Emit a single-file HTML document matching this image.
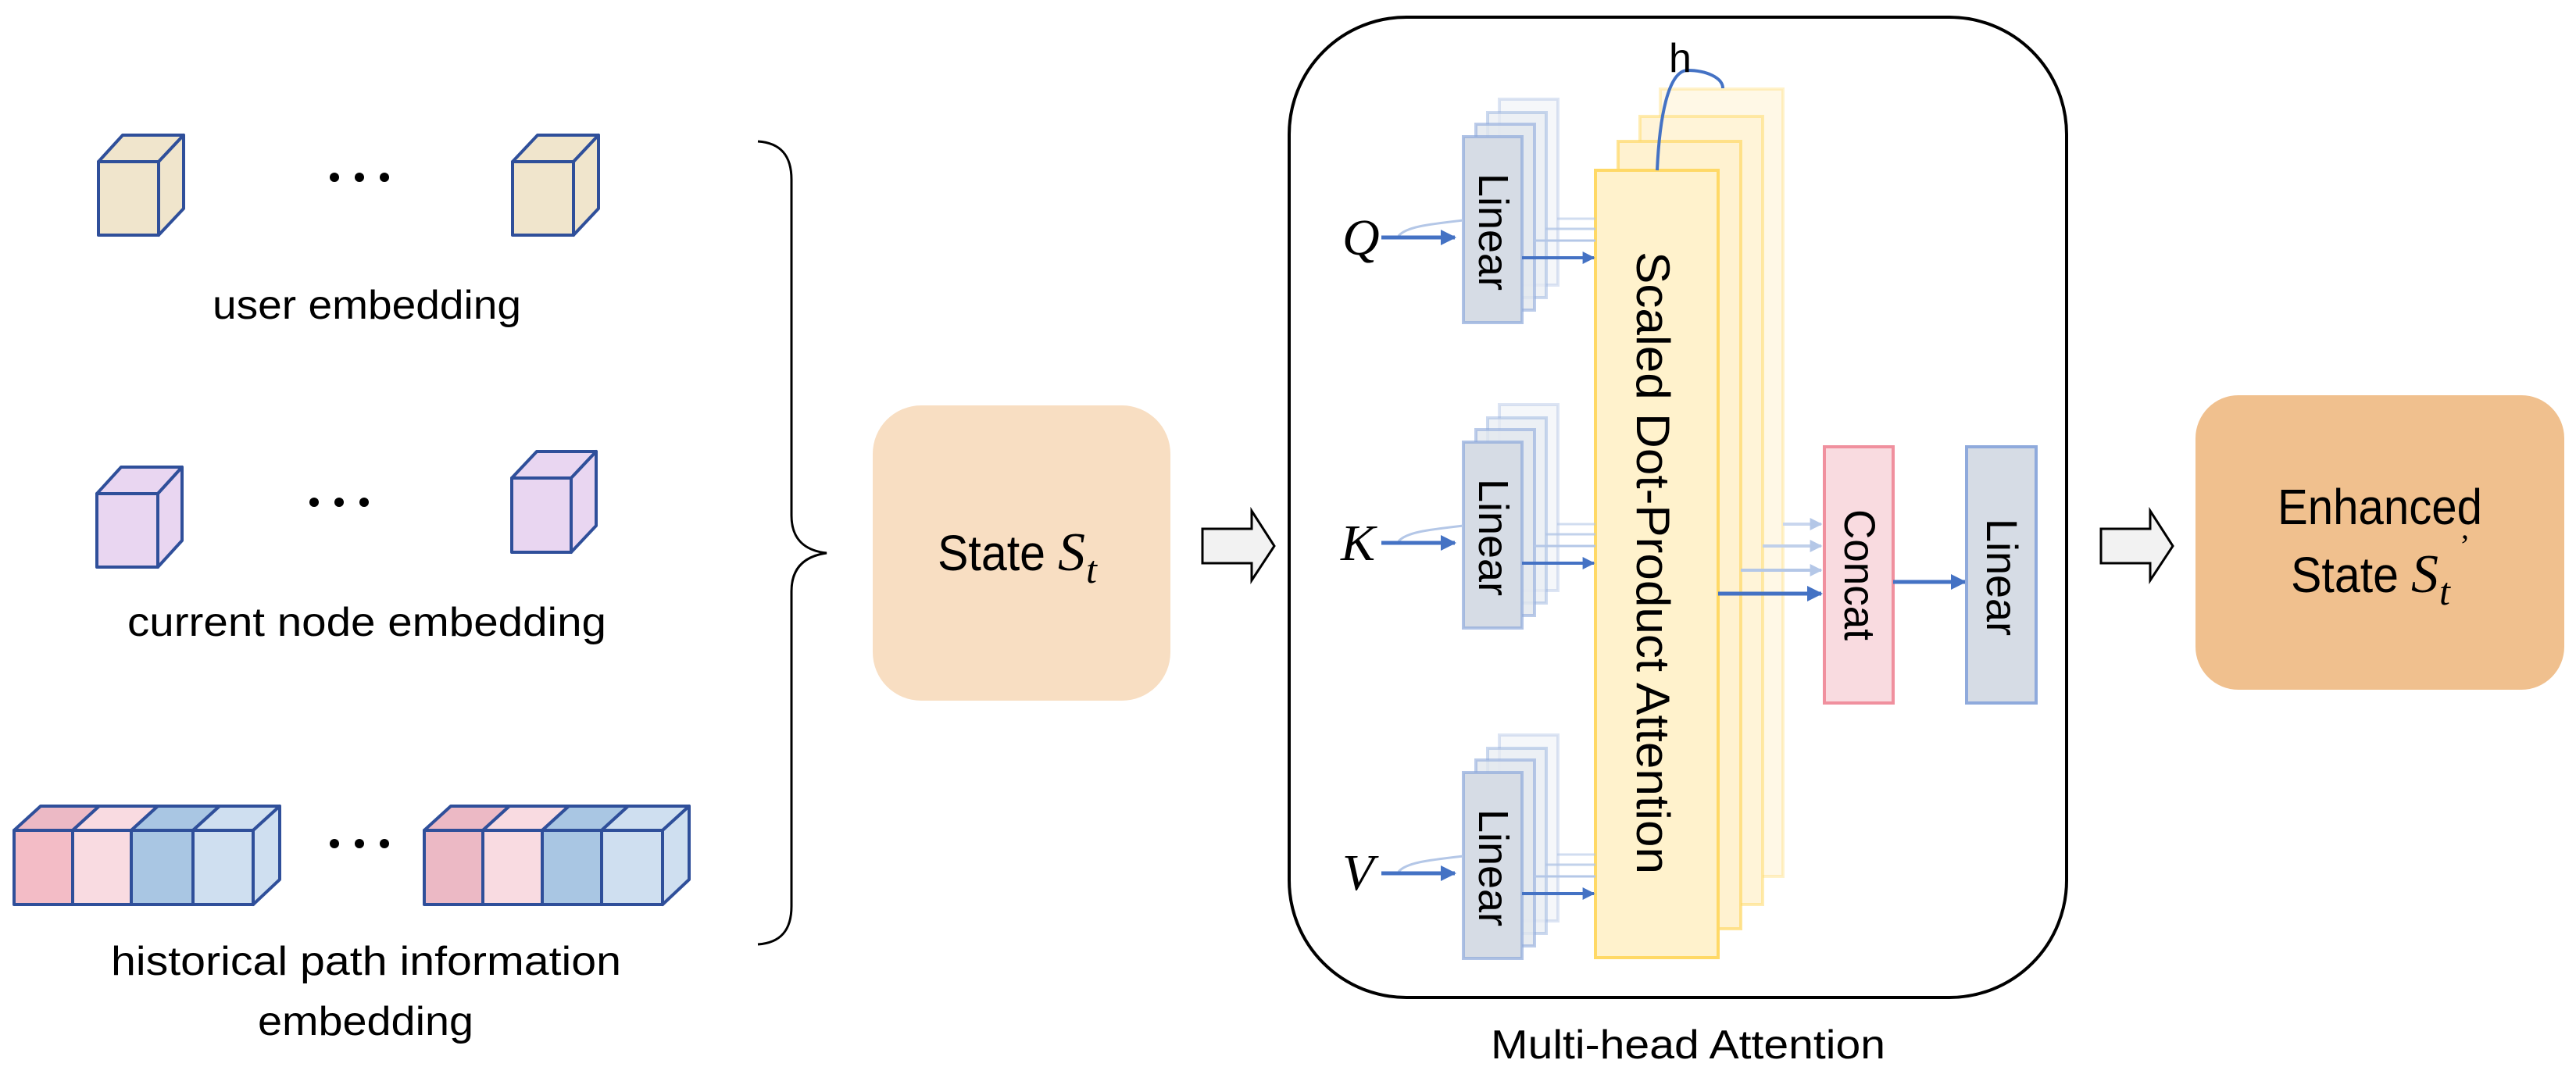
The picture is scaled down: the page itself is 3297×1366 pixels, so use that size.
<!DOCTYPE html>
<html><head><meta charset="utf-8"><style>html,body{margin:0;padding:0;background:#fff}svg{display:block}</style></head>
<body>
<svg width="3297" height="1366" viewBox="0 0 3297 1366" xmlns="http://www.w3.org/2000/svg" font-family="Liberation Sans, sans-serif">
<defs>
<marker id="ah" viewBox="0 0 10 10" refX="9" refY="5" markerWidth="4" markerHeight="4" orient="auto" markerUnits="strokeWidth"><path d="M0,0 L10,5 L0,10 z" fill="#4472c4"/></marker>
<marker id="ahf" viewBox="0 0 10 10" refX="9" refY="5" markerWidth="4" markerHeight="4" orient="auto" markerUnits="strokeWidth"><path d="M0,0 L10,5 L0,10 z" fill="#b4c7e7"/></marker>
</defs>
<g stroke="#2f4f9a" stroke-width="4" stroke-linejoin="round">
<g fill="#f0e5cc">
<polygon points="126,207 157,173 235,173 203,207"/><polygon points="203,207 235,173 235,267 203,301"/><rect x="126" y="207" width="77" height="94"/>
<polygon points="656,207 688,173 766,173 734,207"/><polygon points="734,207 766,173 766,267 734,301"/><rect x="656" y="207" width="78" height="94"/>
</g>
<g fill="#e9d6f1">
<polygon points="124,632 155,598 233,598 202,632"/><polygon points="202,632 233,598 233,692 202,726"/><rect x="124" y="632" width="78" height="94"/>
<polygon points="655,612 687,578 763,578 731,612"/><polygon points="731,612 763,578 763,673 731,707"/><rect x="655" y="612" width="76" height="95"/>
</g>
<g>
<polygon points="18,1063 52,1032 127,1032 93,1063" fill="#ecb9c5"/><rect x="18" y="1063" width="75" height="95" fill="#f3bcc6"/>
<polygon points="93,1063 127,1032 202,1032 168,1063" fill="#f9dbe1"/><rect x="93" y="1063" width="75" height="95" fill="#f9dbe1"/>
<polygon points="168,1063 202,1032 281,1032 247,1063" fill="#a9c6e3"/><rect x="168" y="1063" width="79" height="95" fill="#a9c6e3"/>
<polygon points="247,1063 281,1032 358,1032 324,1063" fill="#cfdff0"/><polygon points="324,1063 358,1032 358,1126 324,1158" fill="#cfdff0"/><rect x="247" y="1063" width="77" height="95" fill="#cfdff0"/>
<polygon points="543,1063 577,1032 652,1032 618,1063" fill="#ecb9c5"/><rect x="543" y="1063" width="75" height="95" fill="#ecb9c5"/>
<polygon points="618,1063 652,1032 728,1032 694,1063" fill="#f9dbe1"/><rect x="618" y="1063" width="76" height="95" fill="#f9dbe1"/>
<polygon points="694,1063 728,1032 804,1032 770,1063" fill="#a9c6e3"/><rect x="694" y="1063" width="76" height="95" fill="#a9c6e3"/>
<polygon points="770,1063 804,1032 882,1032 848,1063" fill="#cfdff0"/><polygon points="848,1063 882,1032 882,1126 848,1158" fill="#cfdff0"/><rect x="770" y="1063" width="78" height="95" fill="#cfdff0"/>
</g>
</g>
<g fill="#000">
<circle cx="428" cy="227" r="6"/><circle cx="460" cy="227" r="6"/><circle cx="492" cy="227" r="6"/>
<circle cx="402" cy="643" r="6"/><circle cx="434" cy="643" r="6"/><circle cx="466" cy="643" r="6"/>
<circle cx="428" cy="1080" r="6"/><circle cx="460" cy="1080" r="6"/><circle cx="492" cy="1080" r="6"/>
</g>
<g font-size="52" fill="#000">
<text x="272" y="408" textLength="395" lengthAdjust="spacingAndGlyphs">user embedding</text>
<text x="163" y="814" textLength="613" lengthAdjust="spacingAndGlyphs">current node embedding</text>
<text x="142" y="1248" textLength="653" lengthAdjust="spacingAndGlyphs">historical path information</text>
<text x="330" y="1325" textLength="276" lengthAdjust="spacingAndGlyphs">embedding</text>
</g>
<path d="M970,181 C1000,183 1013,200 1013,230 L1013,660 C1013,690 1030,705 1058,708 C1030,712 1013,727 1013,757 L1013,1160 C1013,1190 1000,1207 970,1209" fill="none" stroke="#000" stroke-width="3"/>
<rect x="1117" y="519" width="381" height="378" rx="62" fill="#f8dec2"/>
<text x="1200" y="730" font-size="64" textLength="138" lengthAdjust="spacingAndGlyphs">State</text>
<text x="1354" y="730" font-size="70" font-family="Liberation Serif, serif" font-style="italic">S</text>
<text x="1390" y="746" font-size="50" font-family="Liberation Serif, serif" font-style="italic">t</text>
<path d="M1539,677 L1602,677 L1602,654 L1631,699 L1602,743 L1602,721 L1539,721 Z" fill="#f2f2f2" stroke="#000" stroke-width="3"/>
<path d="M2689,677 L2752,677 L2752,654 L2781,699 L2752,743 L2752,721 L2689,721 Z" fill="#f2f2f2" stroke="#000" stroke-width="3"/>
<rect x="1650" y="22" width="995" height="1255" rx="150" fill="none" stroke="#000" stroke-width="4"/>
<text x="1908" y="1355" font-size="52" textLength="505" lengthAdjust="spacingAndGlyphs">Multi-head Attention</text>
<g stroke="#ffd966" stroke-width="4">
<rect x="2125" y="114" width="157" height="1008" fill="#fff8e6" stroke-opacity="0.35"/>
<rect x="2099" y="149" width="157" height="1009" fill="#fff4d8" stroke-opacity="0.5"/>
<rect x="2071" y="181" width="157" height="1008" fill="#fff2d0" stroke-opacity="0.7"/>
<rect x="2042" y="218" width="157" height="1008" fill="#fff2cc"/>
</g>
<path d="M2121,218 C2124,150 2135,92 2159,90 C2185,90 2205,100 2205,113" fill="none" stroke="#4472c4" stroke-width="4"/>
<text x="2136" y="92" font-size="52">h</text>
<text transform="translate(2095,322) rotate(90)" font-size="60" textLength="797" lengthAdjust="spacingAndGlyphs">Scaled Dot-Product Attention</text>
<g id="lin">
<g stroke="#8faadc" stroke-width="4">
<rect x="1919" y="127" width="75" height="238" fill="#eef1f6" stroke-opacity="0.3" fill-opacity="0.6"/>
<rect x="1904" y="144" width="75" height="237" fill="#e8ecf2" stroke-opacity="0.45" fill-opacity="0.7"/>
<rect x="1889" y="159" width="75" height="238" fill="#e2e7ee" stroke-opacity="0.6" fill-opacity="0.8"/>
<rect x="1873" y="175" width="75" height="238" fill="#d6dce5" stroke-opacity="0.7"/>
</g>
<path d="M1790,302 C1800,290 1830,287 1873,282" fill="none" stroke="#b4c7e7" stroke-width="3"/>
<line x1="1768" y1="304" x2="1862" y2="304" stroke="#4472c4" stroke-width="5" marker-end="url(#ah)"/>
<line x1="1948" y1="330" x2="2040" y2="330" stroke="#4472c4" stroke-width="4" marker-end="url(#ah)"/>
<line x1="1963" y1="308" x2="2042" y2="308" stroke="#b4c7e7" stroke-width="3"/>
<line x1="1978" y1="293" x2="2042" y2="293" stroke="#b4c7e7" stroke-width="3" opacity="0.8"/>
<line x1="1993" y1="280" x2="2042" y2="280" stroke="#b4c7e7" stroke-width="3" opacity="0.6"/>
<text transform="translate(1893,222) rotate(90)" font-size="54" textLength="150" lengthAdjust="spacingAndGlyphs">Linear</text>
</g>
<use href="#lin" transform="translate(0,391)"/>
<use href="#lin" transform="translate(0,814)"/>
<g font-family="Liberation Serif, serif" font-style="italic" font-size="66">
<text x="1718" y="326">Q</text>
<text x="1716" y="717">K</text>
<text x="1718" y="1139">V</text>
</g>
<line x1="2282" y1="671" x2="2331" y2="671" stroke="#c9d6ee" stroke-width="4" marker-end="url(#ahf)"/>
<line x1="2256" y1="699" x2="2331" y2="699" stroke="#c0d0ea" stroke-width="4" marker-end="url(#ahf)"/>
<line x1="2228" y1="730" x2="2331" y2="730" stroke="#b4c7e7" stroke-width="4" marker-end="url(#ahf)"/>
<line x1="2199" y1="760" x2="2331" y2="760" stroke="#4472c4" stroke-width="5" marker-end="url(#ah)"/>
<rect x="2335" y="572" width="88" height="328" fill="#f9dbe0" stroke="#f0909e" stroke-width="4"/>
<text transform="translate(2361,652) rotate(90)" font-size="56" textLength="168" lengthAdjust="spacingAndGlyphs">Concat</text>
<line x1="2423" y1="745" x2="2515" y2="745" stroke="#4472c4" stroke-width="5" marker-end="url(#ah)"/>
<rect x="2517" y="572" width="89" height="328" fill="#d6dce5" stroke="#8faadc" stroke-width="4"/>
<text transform="translate(2543,664) rotate(90)" font-size="56" textLength="150" lengthAdjust="spacingAndGlyphs">Linear</text>
<rect x="2810" y="506" width="472" height="377" rx="55" fill="#f0c08e"/>
<text x="2915" y="671" font-size="64" textLength="262" lengthAdjust="spacingAndGlyphs">Enhanced</text>
<text x="2932" y="758" font-size="64" textLength="138" lengthAdjust="spacingAndGlyphs">State</text>
<text x="3086" y="758" font-size="70" font-family="Liberation Serif, serif" font-style="italic">S</text>
<text x="3122" y="774" font-size="50" font-family="Liberation Serif, serif" font-style="italic">t</text>
<text x="3148" y="712" font-size="40" font-family="Liberation Serif, serif">’</text>
</svg>
</body></html>
